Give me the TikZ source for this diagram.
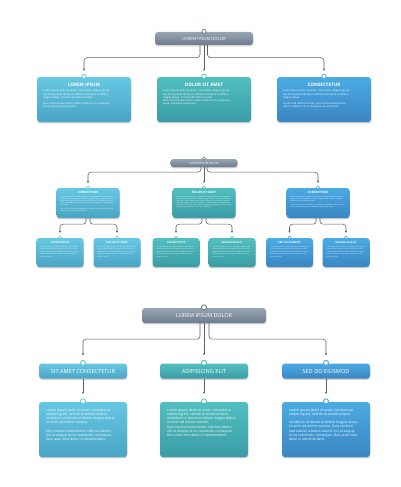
\documentclass[tikz,border=0pt]{standalone}
\usepackage{fontspec}
\setmainfont{Open Sans}
\usetikzlibrary{arrows.meta,shadows,calc}
\definecolor{cyT}{HTML}{66C8E3}
\definecolor{cyB}{HTML}{4AA4C4}
\definecolor{tlT}{HTML}{52BFC0}
\definecolor{tlB}{HTML}{3A9CA6}
\definecolor{blT}{HTML}{4CABE2}
\definecolor{blB}{HTML}{3A86C3}
\definecolor{gyT}{HTML}{97A4B3}
\definecolor{gyB}{HTML}{6E7C8D}
\definecolor{ln}{HTML}{5C6066}
\newcommand\cardbox[6]{%
  \node[card, minimum width=#4pt, minimum height=#5pt, top color=#6T, bottom color=#6B] (#1) at (#2,#3) {};}
\newcommand\cardring[3]{%
  \node[ring, minimum size=#3pt, draw=#2T] (#1r) at ([yshift=0.4pt]#1.north) {};}
\begin{document}
\begin{tikzpicture}[x=1pt,y=-1pt,
  card/.style={rectangle, rounded corners=3pt, inner sep=0pt, draw=none,
    drop shadow={shadow xshift=0.3pt,shadow yshift=-1.4pt,opacity=0.18,fill=black}},
  ring/.style={circle, fill=white, inner sep=0pt, line width=0.8pt},
  conn/.style={draw=ln, line width=0.55pt, rounded corners=3pt, -{Stealth[length=2.2pt,width=2.2pt]}},
  hA/.style={font=\fontsize{4.6}{5}\selectfont\bfseries, text=white, inner sep=0pt},
  bA/.style={font=\fontsize{2.6}{3.25}\selectfont, text=white, inner sep=0pt, anchor=north west, align=left},
  hB/.style={font=\fontsize{2.9}{3}\selectfont\bfseries, text=white, inner sep=0pt},
  bB/.style={font=\fontsize{1.55}{1.95}\selectfont, text=white, inner sep=0pt, anchor=north west, align=left, text width=55pt},
  hC/.style={font=\fontsize{2.6}{3}\selectfont\bfseries, text=white, inner sep=0pt},
  bC/.style={font=\fontsize{1.45}{2.35}\selectfont, text=white, inner sep=0pt, anchor=north west, align=left, text width=39pt},
  bD/.style={font=\fontsize{3.4}{4.3}\selectfont, text=white, inner sep=0pt, anchor=north west, align=left},
]
\useasboundingbox (0,0) rectangle (400,487);
\fill[white] (0,0) rectangle (400,487);

%% ================= SECTION 1 =================
\node[card, minimum width=98pt, minimum height=13pt, top color=gyT, bottom color=gyB,
  font=\fontsize{4.2}{5}\selectfont, text=white] (h1) at (204,38.5) {LOREM IPSUM DOLOR};
\node[ring, minimum size=4pt, draw=gyB] (h1r) at ([yshift=0.4pt]h1.north) {};

\cardbox{b1}{84}{99.5}{94}{45}{cy}
\cardbox{b2}{204}{99.5}{94}{45}{tl}
\cardbox{b3}{324}{99.5}{94}{45}{bl}
\cardring{b1}{cy}{4.4}
\cardring{b2}{tl}{4.4}
\cardring{b3}{bl}{4.4}

\draw[conn] ([xshift=-4pt]h1.south) -- ++(0,12.5) -| ([yshift=6pt]b1.north);
\draw[conn] (h1.south) -- ([yshift=6pt]b2.north);
\draw[conn] ([xshift=3.5pt]h1.south) -- ++(0,12.5) -| ([yshift=6pt]b3.north);

\node[hA] (b1h) at ([yshift=-8pt]b1.north) {LOREM IPSUM};
\node[hA] (b2h) at ([yshift=-8pt]b2.north) {DOLOR SIT AMET};
\node[hA] (b3h) at ([yshift=-8pt]b3.north) {CONSECTETUR};
\node[bA] (b1b) at ([xshift=6pt,yshift=-13pt]b1.north west) {Lorem ipsum dolor sit amet, consectetur adipiscing elit,\\ sed do eiusmod tempor incididunt ut labore et dolore\\ magna aliqua. Ut enim ad minim veniam,\\[3pt] Quis nostrud exercitation ullamco laboris nisi ut aliquip\\ ex ea commodo consequat.};
\node[bA] (b2b) at ([xshift=6pt,yshift=-13pt]b2.north west) {Lorem ipsum dolor sit amet, consectetur adipiscing elit,\\ sed do eiusmod tempor incididunt ut labore et dolore\\ magna aliqua. Ut enim ad minim veniam,\\ Quis nostrud exercitation ullamco laboris nisi ut aliquip\\ ex ea commodo consequat.};
\node[bA] (b3b) at ([xshift=6pt,yshift=-13pt]b3.north west) {Lorem ipsum dolor sit amet, consectetur adipiscing elit,\\ sed do eiusmod tempor incididunt ut labore et dolore\\ magna aliqua.\\[3pt] Ut enim ad minim veniam, Quis nostrud exercitation\\ ullamco laboris nisi ut aliquip ex ea commodo.};

%% ================= SECTION 2 =================
\node[card, minimum width=67pt, minimum height=8pt, top color=gyT, bottom color=gyB,
  font=\fontsize{2.9}{3}\selectfont, text=white] (h2) at (204,163) {LOREM IPSUM DOLOR};
\node[ring, minimum size=3pt, draw=gyB, line width=0.6pt] (h2r) at ([yshift=0.3pt]h2.north) {};

\cardbox{m1}{88}{203}{63}{30}{cy}
\cardbox{m2}{204}{203}{63}{30}{tl}
\cardbox{m3}{318}{203}{63}{30}{bl}
\node[ring, minimum size=3pt, draw=cyT, line width=0.6pt] (m1r) at ([yshift=0.3pt]m1.north) {};
\node[ring, minimum size=3pt, draw=tlT, line width=0.6pt] (m2r) at ([yshift=0.3pt]m2.north) {};
\node[ring, minimum size=3pt, draw=blT, line width=0.6pt] (m3r) at ([yshift=0.3pt]m3.north) {};

\draw[conn] ([xshift=-3pt]h2.south) -- ++(0,5) -| ([yshift=5pt]m1.north);
\draw[conn] (h2.south) -- ([yshift=5pt]m2.north);
\draw[conn] ([xshift=3pt]h2.south) -- ++(0,5) -| ([yshift=5pt]m3.north);

\node[hB] (m1h) at ([yshift=-5pt]m1.north) {CONSECTETUR};
\node[hB] (m2h) at ([yshift=-5pt]m2.north) {DOLOR SIT AMET};
\node[hB] (m3h) at ([yshift=-5pt]m3.north) {CONSECTETUR};
\node[bB] (m1b) at ([xshift=4pt,yshift=-8.5pt]m1.north west) {Lorem ipsum dolor sit amet, consectetur adipiscing elit, sed do eiusmod tempor incididunt ut labore et dolore magna aliqua. Ut enim ad minim veniam, quis nostrud exercitation ullamco laboris nisi ut aliquip ex ea commodo consequat. Duis aute irure dolor in reprehenderit in voluptate velit esse cillum.\\[1.8pt] Excepteur sint occaecat cupidatat non proident, sunt in culpa qui officia deserunt mollit anim id est laborum.};
\node[bB] (m2b) at ([xshift=4pt,yshift=-8.5pt]m2.north west) {Lorem ipsum dolor sit amet, consectetur adipiscing elit, sed do eiusmod tempor incididunt ut labore et dolore magna aliqua. Ut enim ad minim veniam, quis nostrud exercitation ullamco laboris nisi ut aliquip ex ea commodo consequat. Duis aute irure dolor in reprehenderit in voluptate velit esse cillum. Excepteur sint occaecat cupidatat non proident, sunt in culpa qui officia deserunt mollit anim id est laborum.};
\node[bB] (m3b) at ([xshift=4pt,yshift=-8.5pt]m3.north west) {Lorem ipsum dolor sit amet, consectetur adipiscing elit, sed do eiusmod tempor incididunt ut labore et dolore magna aliqua. Ut enim ad minim veniam, quis nostrud exercitation.\\[1.8pt] Ullamco laboris nisi ut aliquip ex ea commodo consequat. Duis aute irure dolor in reprehenderit in voluptate velit esse cillum dolore.};

\cardbox{s1}{60}{252.5}{47}{29}{cy}
\cardbox{s2}{117}{252.5}{47}{29}{cy}
\cardbox{s3}{176}{252.5}{47}{29}{tl}
\cardbox{s4}{232}{252.5}{47}{29}{tl}
\cardbox{s5}{289.5}{252.5}{47}{29}{bl}
\cardbox{s6}{346}{252.5}{47}{29}{bl}
\foreach \s/\c in {s1/cy,s2/cy,s3/tl,s4/tl,s5/bl,s6/bl}{
  \node[ring, minimum size=3pt, draw=\c T, line width=0.6pt] (\s r) at ([yshift=0.3pt]\s.north) {};
}
\draw[conn] ([xshift=-2pt]m1.south) -- ++(0,6) -| ([yshift=5pt]s1.north);
\draw[conn] ([xshift=2pt]m1.south) -- ++(0,6) -| ([yshift=5pt]s2.north);
\draw[conn] ([xshift=-2pt]m2.south) -- ++(0,6) -| ([yshift=5pt]s3.north);
\draw[conn] ([xshift=2pt]m2.south) -- ++(0,6) -| ([yshift=5pt]s4.north);
\draw[conn] ([xshift=-2pt]m3.south) -- ++(0,6) -| ([yshift=5pt]s5.north);
\draw[conn] ([xshift=2pt]m3.south) -- ++(0,6) -| ([yshift=5pt]s6.north);

\node[hC] (s1h) at ([yshift=-5pt]s1.north) {LOREM IPSUM};
\node[hC] (s2h) at ([yshift=-5pt]s2.north) {DOLOR SIT AMET};
\node[hC] (s3h) at ([yshift=-5pt]s3.north) {CONSECTETUR};
\node[hC] (s4h) at ([yshift=-5pt]s4.north) {ADIPISCING ELIT};
\node[hC] (s5h) at ([yshift=-5pt]s5.north) {SED DO EIUSMOD};
\node[hC] (s6h) at ([yshift=-5pt]s6.north) {MAGNA ALIQUA};
\foreach \s in {s1,s2,s3,s4,s5,s6}{
  \node[bC] (\s b) at ([xshift=4pt,yshift=-8.5pt]\s.north west) {Lorem ipsum dolor sit amet, consectetur adipiscing elit, sed do eiusmod tempor incididunt ut labore et dolore magna aliqua. Ut enim ad minim veniam, quis nostrud exercitation ullamco laboris nisi ut aliquip ex ea commodo consequat.};
}

%% ================= SECTION 3 =================
\node[card, minimum width=124pt, minimum height=15pt, top color=gyT, bottom color=gyB,
  font=\fontsize{5.4}{6}\selectfont, text=white] (h3) at (204,315.5) {LOREM IPSUM DOLOR};
\node[ring, minimum size=5pt, draw=gyB, line width=0.9pt] (h3r) at ([yshift=0.5pt]h3.north) {};

\node[card, minimum width=88pt, minimum height=15pt, top color=cyT, bottom color=cyB,
  font=\fontsize{5.6}{6}\selectfont, text=white] (t1) at (83,371) {SIT AMET CONSECTETUR};
\node[card, minimum width=88pt, minimum height=15pt, top color=tlT, bottom color=tlB,
  font=\fontsize{5.6}{6}\selectfont, text=white] (t2) at (204,371) {ADIPISICING ELIT};
\node[card, minimum width=88pt, minimum height=15pt, top color=blT, bottom color=blB,
  font=\fontsize{5.6}{6}\selectfont, text=white] (t3) at (326,371) {SED DO EIUSMOD};
\node[ring, minimum size=5pt, draw=cyT, line width=0.9pt] (t1r) at ([yshift=0.5pt]t1.north) {};
\node[ring, minimum size=5pt, draw=tlT, line width=0.9pt] (t2r) at ([yshift=0.5pt]t2.north) {};
\node[ring, minimum size=5pt, draw=blT, line width=0.9pt] (t3r) at ([yshift=0.5pt]t3.north) {};

\draw[conn] ([xshift=-4pt]h3.south) -- ++(0,16) -| ([yshift=8pt]t1.north);
\draw[conn] (h3.south) -- ([yshift=8pt]t2.north);
\draw[conn] ([xshift=5pt]h3.south) -- ++(0,16) -| ([yshift=8pt]t3.north);

\cardbox{B1}{83}{429.5}{88}{55}{cy}
\cardbox{B2}{204}{429.5}{88}{55}{tl}
\cardbox{B3}{326}{429.5}{88}{55}{bl}
\node[ring, minimum size=5pt, draw=cyT, line width=0.9pt] (B1r) at ([yshift=0.5pt]B1.north) {};
\node[ring, minimum size=5pt, draw=tlT, line width=0.9pt] (B2r) at ([yshift=0.5pt]B2.north) {};
\node[ring, minimum size=5pt, draw=blT, line width=0.9pt] (B3r) at ([yshift=0.5pt]B3.north) {};

\draw[conn] (t1.south) -- ([yshift=8pt]B1.north);
\draw[conn] (t2.south) -- ([yshift=8pt]B2.north);
\draw[conn] (t3.south) -- ([yshift=8pt]B3.north);

\node[bD] (B1b) at ([xshift=7pt,yshift=-6.5pt]B1.north west) {Lorem ipsum dolor sit amet, consectetur\\ adipiscing elit, sed do eiusmod tempor\\ incididunt ut labore et dolore magna aliqua.\\ Ut enim ad minim veniam,\\[4pt] Quis nostrud exercitation ullamco laboris\\ nisi ut aliquip ex ea commodo consequat.\\ Duis aute irure dolor in reprehenderit.};
\node[bD] (B2b) at ([xshift=7pt,yshift=-6.5pt]B2.north west) {Lorem ipsum dolor sit amet, consectetur\\ adipiscing elit, sed do eiusmod tempor\\ incididunt ut labore et dolore magna aliqua.\\ Ut enim ad minim veniam,\\ Quis nostrud exercitation ullamco laboris\\ nisi ut aliquip ex ea commodo consequat.\\ Duis aute irure dolor in reprehenderit.};
\node[bD] (B3b) at ([xshift=7pt,yshift=-6.5pt]B3.north west) {Lorem ipsum dolor sit amet, consectetur\\ adipiscing elit, sed do eiusmod tempor.\\[4pt] Incididunt ut labore et dolore magna aliqua.\\ Ut enim ad minim veniam. Quis nostrud\\ exercitation ullamco laboris nisi ut aliquip\\ ex ea commodo consequat. Duis aute irure\\ dolor in reprehenderit.};
\end{tikzpicture}
\end{document}
